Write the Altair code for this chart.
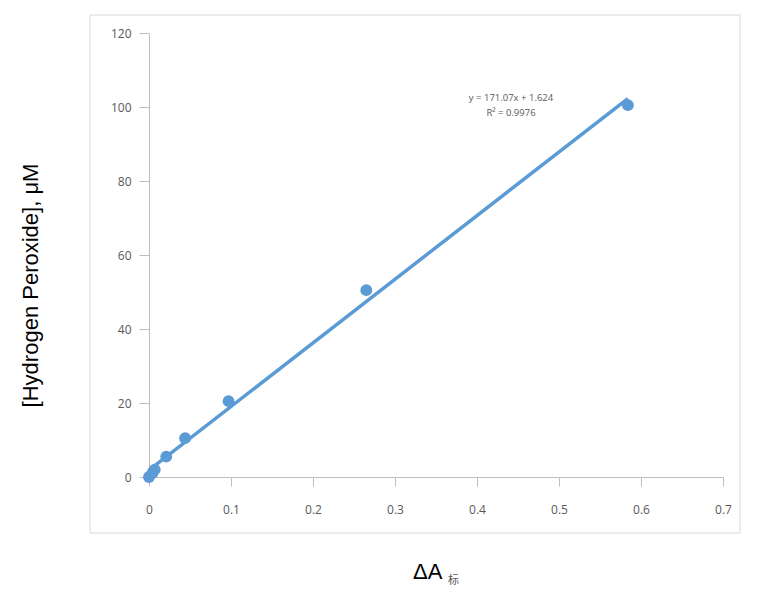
import altair as alt
import pandas as pd

# data
delta_a = [0.0, 0.004, 0.007, 0.021, 0.044, 0.097, 0.265, 0.584]
h2o2 = [0.0, 1.0, 2.0, 5.5, 10.5, 20.5, 50.5, 100.5]
equation_lines = ["y = 171.07x + 1.624", "R² = 0.9976"]

df = pd.DataFrame({"dA": delta_a, "H2O2": h2o2})

BLUE = "#5b9bd5"
AXIS = "#bfbfbf"
LABEL = "#595959"

x_enc = alt.X("dA:Q", scale=alt.Scale(domain=[0, 0.7], nice=False, zero=False),
              axis=alt.Axis(values=[0, 0.1, 0.2, 0.3, 0.4, 0.5, 0.6, 0.7], title=None,
                            grid=False, domainColor=AXIS, tickColor=AXIS, tickSize=9,
                            labelColor=LABEL, labelFontSize=12, labelPadding=18,
                            labelFlush=False,
                            labelFont="Open Sans", format="~g"))
y_enc = alt.Y("H2O2:Q", scale=alt.Scale(domain=[0, 120], nice=False),
              axis=alt.Axis(values=[0, 20, 40, 60, 80, 100, 120],
                            title="[Hydrogen Peroxide], μM", titleFont="Liberation Sans",
                            titleFontSize=22, titleFontWeight="normal", titleColor="black",
                            titleAngle=270, titleX=-119, titleY=252, titleAlign="center",
                            titleBaseline="middle",
                            grid=False, domainColor=AXIS, tickColor=AXIS, tickSize=10,
                            labelColor=LABEL, labelFontSize=12, labelPadding=8,
                            labelFlush=False,
                            labelFont="Open Sans"))

base = alt.Chart(df)

frame = base.mark_rect(fill=None, stroke="#d9d9d9", strokeWidth=1).encode(
    x=alt.value(-59), x2=alt.value(591), y=alt.value(-18), y2=alt.value(500)
).transform_filter("datum.dA == 0")

line = base.transform_regression("dA", "H2O2", extent=[0, 0.584]).mark_line(
    color=BLUE, strokeWidth=3.5).encode(x=x_enc, y=y_enc)

points = base.mark_circle(color=BLUE, opacity=1, size=140).encode(x=x_enc, y=y_enc)

eq_df = pd.DataFrame({"t": equation_lines, "i": [0, 1]})
eq = alt.Chart(eq_df).mark_text(fontSize=9.5, color=LABEL, font="Open Sans",
                                align="center", baseline="middle").encode(
    x=alt.value(362), text="t:N"
).transform_calculate(yy="65 + datum.i * 15").encode(y=alt.Y("yy:Q", scale=None))

xt_df = pd.DataFrame({"t": ["ΔA"]})
xt1 = alt.Chart(xt_df).mark_text(fontSize=22, font="Liberation Sans", color="black",
                                 align="left", baseline="middle").encode(
    x=alt.value(264), y=alt.value(539), text="t:N")
xt_df2 = pd.DataFrame({"t": ["标"]})
xt2 = alt.Chart(xt_df2).mark_text(fontSize=11, font="Noto Sans CJK SC", color=LABEL,
                                  align="left", baseline="middle").encode(
    x=alt.value(299), y=alt.value(548), text="t:N")

chart = alt.layer(frame, line, points, eq, xt1, xt2).properties(
    width=574, height=444,
    background="white",
    autosize=alt.AutoSizeParams(type="none"),
    padding={"left": 141, "top": 25, "right": 30, "bottom": 118},
).configure_view(stroke=None)

chart.save("out.html", embed_options={"renderer": "svg", "actions": False})
